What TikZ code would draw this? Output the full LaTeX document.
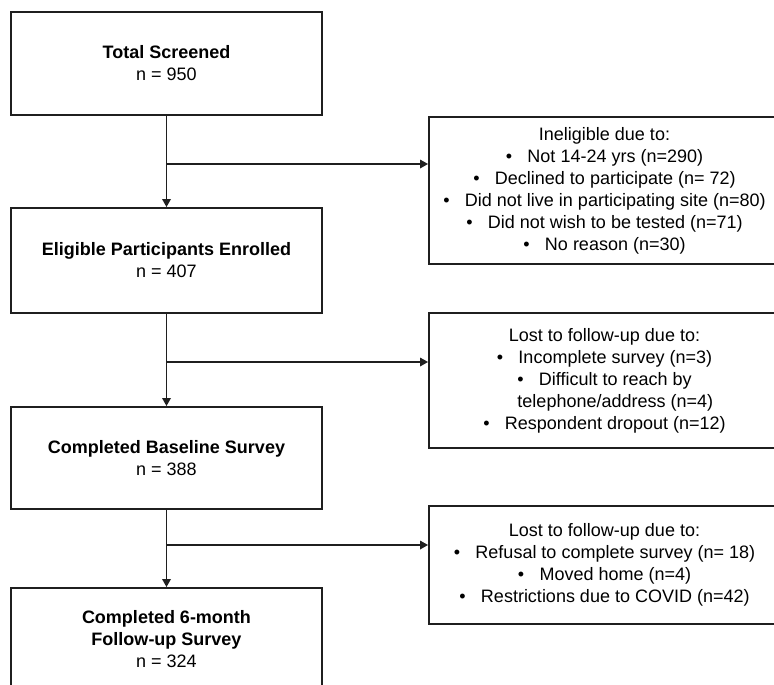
\documentclass[tikz,border=0pt]{standalone}
\usepackage{fontspec}
\setmainfont{Liberation Sans}
\usetikzlibrary{arrows.meta}
\tikzset{
  box/.style={draw=black!88, line width=1.9pt, rectangle, align=center, inner sep=0pt,
    font=\fontsize{18}{22}\selectfont},
  leftbox/.style={box, minimum width=311pt},
  rightbox/.style={box, minimum width=351pt},
  conn/.style={draw=black!88, line width=1.7pt},
  arr/.style={conn, -{Triangle[length=8pt,width=8.5pt]}},
}
\newcommand{\bul}{\textbullet\hspace{0.85em}}
\begin{document}
\begin{tikzpicture}[x=1pt,y=-1pt]
\useasboundingbox (0,0) rectangle (774,685);
\clip (0,0) rectangle (774,685);
\fill[white] (0,0) rectangle (774,685);

\node[leftbox, minimum height=103pt] (b1) at (166.5,63.5) {\textbf{Total Screened}\\n = 950};
\node[leftbox, minimum height=105pt] (b2) at (166.5,260.5) {\textbf{Eligible Participants Enrolled}\\n = 407};
\node[leftbox, minimum height=102pt] (b3) at (166.5,458) {\textbf{Completed Baseline Survey}\\n = 388};
\node[leftbox, minimum height=102pt] (b4) at (166.5,639) {\textbf{Completed 6-month}\\\textbf{Follow-up Survey}\\n = 324};

\node[rightbox, minimum height=147pt] (r1) at (604.5,190.5) {Ineligible due to:\\
\bul Not 14-24 yrs (n=290)\\
\bul Declined to participate (n= 72)\\
\bul Did not live in participating site (n=80)\\
\bul Did not wish to be tested (n=71)\\
\bul No reason (n=30)};
\node[rightbox, minimum height=135pt] (r2) at (604.5,380.5) {Lost to follow-up due to:\\
\bul Incomplete survey (n=3)\\
\bul Difficult to reach by\\
\hspace{1.2em}telephone/address (n=4)\\
\bul Respondent dropout (n=12)};
\node[rightbox, minimum height=118pt] (r3) at (604.5,565) {Lost to follow-up due to:\\
\bul Refusal to complete survey (n= 18)\\
\bul Moved home (n=4)\\
\bul Restrictions due to COVID (n=42)};

\coordinate (j1) at (166.5,164);
\coordinate (j2) at (166.5,362);
\coordinate (j3) at (166.5,545);

\draw[arr] (b1.south) -- (b2.north);
\draw[arr] (b2.south) -- (b3.north);
\draw[arr] (b3.south) -- (b4.north);
\draw[arr] (j1) -- (j1 -| r1.west);
\draw[arr] (j2) -- (j2 -| r2.west);
\draw[arr] (j3) -- (j3 -| r3.west);
\end{tikzpicture}
\end{document}
